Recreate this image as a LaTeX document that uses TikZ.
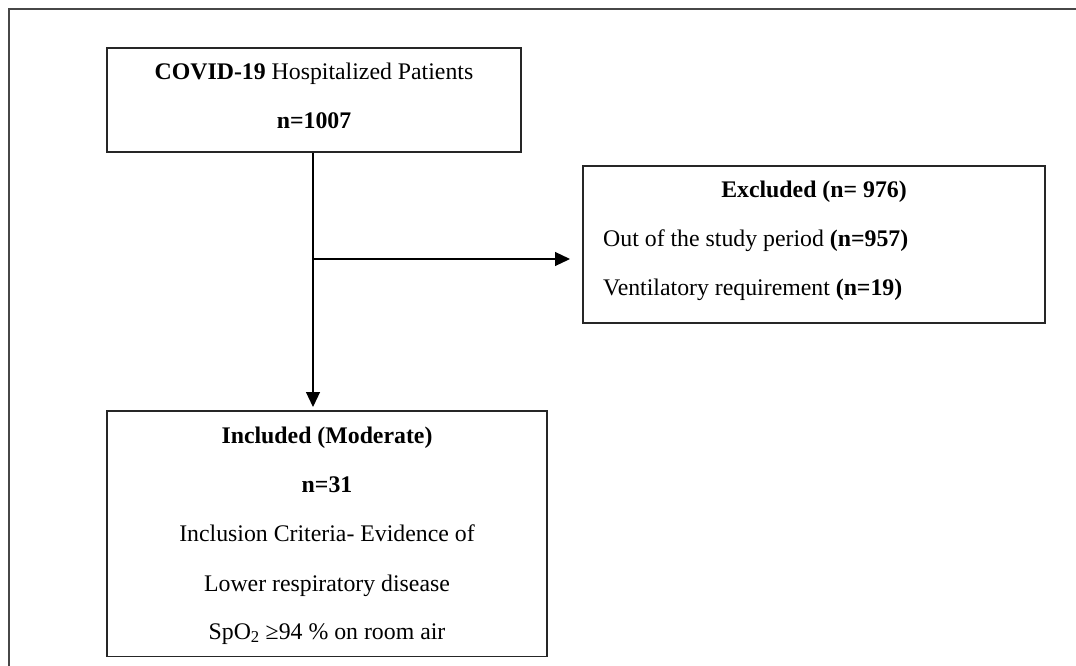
\documentclass[tikz,border=0pt]{standalone}
\usepackage{fontspec}
\setmainfont{Liberation Serif}
\usetikzlibrary{arrows.meta}
\begin{document}
\begin{tikzpicture}[x=1pt,y=-1pt,
  box/.style={draw=black!85, line width=1.2pt, inner sep=0pt},
  txt/.style={inner sep=0pt, font=\fontsize{23.8}{28}\selectfont},
  conn/.style={draw=black, line width=1.2pt},
  arr/.style={conn, -{Triangle[length=15pt,width=14pt]}},
  frame/.style={draw=black!72, line width=2pt}]
\useasboundingbox (0,0) rectangle (1076,666);
% outer frame (top and left sides only)
\draw[frame] (9,666) -- (9,9) -- (1076,9);
% boxes
\node[box, minimum width=414pt, minimum height=104pt] (top) at (314,100) {};
\node[box, minimum width=462pt, minimum height=157pt] (exc) at (814,244.5) {};
\node[box, minimum width=440pt, minimum height=245.7pt] (inc) at (327,533.85) {};
% texts
\node[txt, anchor=base] (t1) at (314,80) {\textbf{COVID-19} Hospitalized Patients};
\node[txt, anchor=base] (t2) at (314,129) {\textbf{n=1007}};
\node[txt, anchor=base] (e1) at (814,197) {\textbf{Excluded (n= 976)}};
\node[txt, anchor=base west] (e2) at (603,246) {Out of the study period \textbf{(n=957)}};
\node[txt, anchor=base west] (e3) at (603,295) {Ventilatory requirement \textbf{(n=19)}};
\node[txt, anchor=base] (i1) at (327,443) {\textbf{Included (Moderate)}};
\node[txt, anchor=base] (i2) at (327,492) {\textbf{n=31}};
\node[txt, anchor=base] (i3) at (327,541) {Inclusion Criteria- Evidence of};
\node[txt, anchor=base] (i4) at (327,591) {Lower respiratory disease};
\node[txt, anchor=base] (i5) at (327,639) {SpO\textsubscript{2} ≥94 \% on room air};
% connectors
\coordinate (br) at (313,259);
\coordinate (vend) at (313,407);
\coordinate (hend) at (570,259);
\draw[arr] (top.south -| br) -- (vend);
\draw[arr] (br) -- (hend);
\end{tikzpicture}
\end{document}
